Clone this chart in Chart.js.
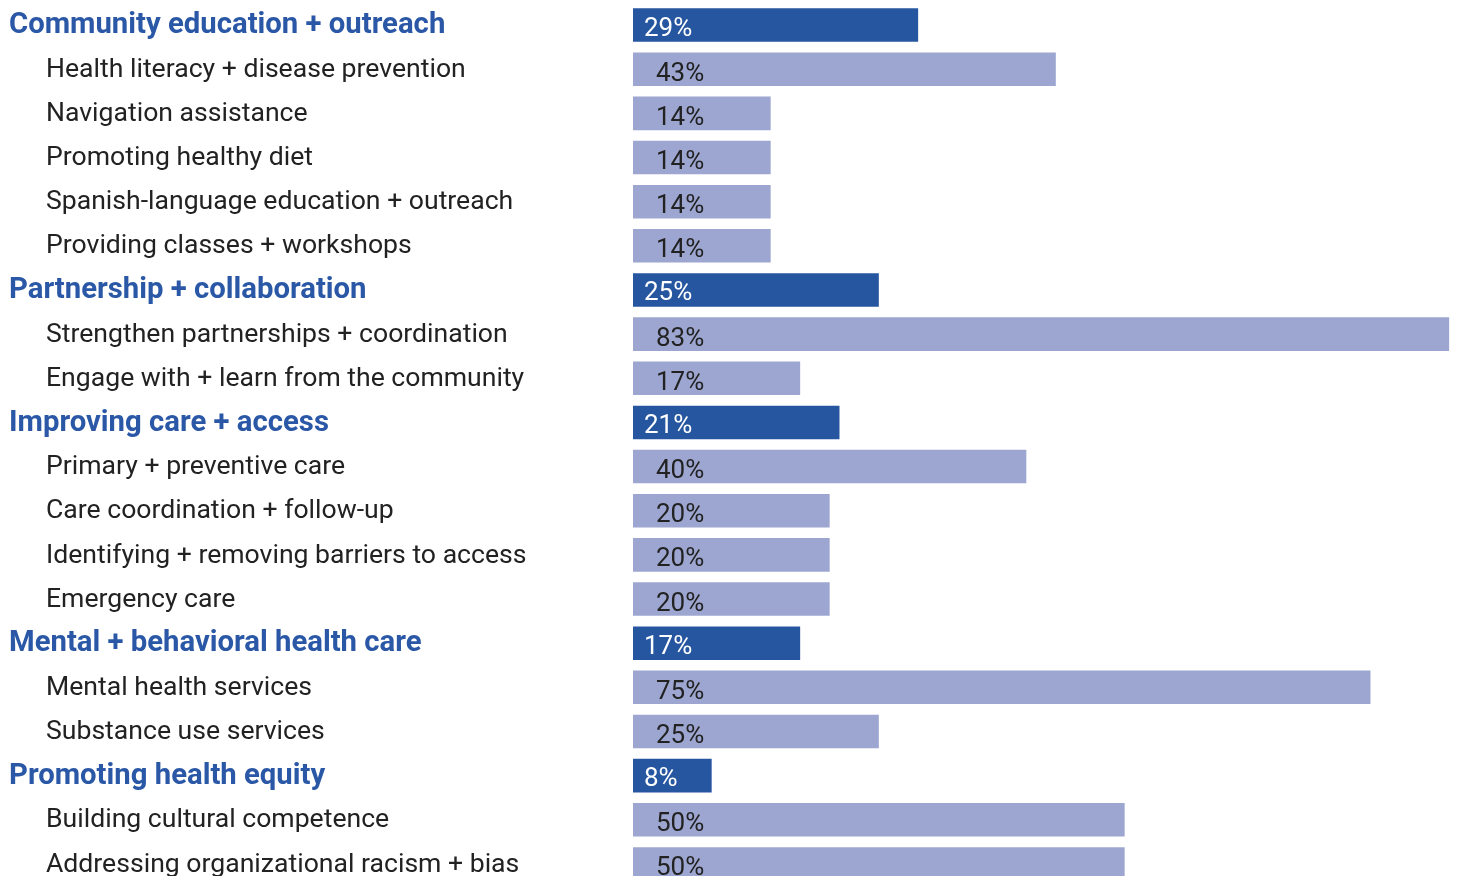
<!DOCTYPE html>
<html lang="en">
<head>
    <meta charset="UTF-8">
    <title>Activity areas</title>
    <script src="https://cdn.jsdelivr.net/npm/chart.js"></script>
    <style>
        html, body { margin: 0; padding: 0; background: #fff; overflow: hidden; }
        .wrap { position: relative; width: 1457px; height: 890px; }
    </style>
</head>
<body>
    <div class="wrap"><canvas id="areaChart"></canvas></div>

    <script>
        const labels = [
            'Community education + outreach',
            'Health literacy + disease prevention',
            'Navigation assistance',
            'Promoting healthy diet',
            'Spanish-language education + outreach',
            'Providing classes + workshops',
            'Partnership + collaboration',
            'Strengthen partnerships + coordination',
            'Engage with + learn from the community',
            'Improving care + access',
            'Primary + preventive care',
            'Care coordination + follow-up',
            'Identifying + removing barriers to access',
            'Emergency care',
            'Mental + behavioral health care',
            'Mental health services',
            'Substance use services',
            'Promoting health equity',
            'Building cultural competence',
            'Addressing organizational racism + bias'
        ];
        // true = group heading, false = item within the group
        const isGroup = [
            true, false, false, false, false, false,
            true, false, false,
            true, false, false, false, false,
            true, false, false,
            true, false, false
        ];
        const values = [29, 43, 14, 14, 14, 14, 25, 83, 17, 21, 40, 20, 20, 20, 17, 75, 25, 8, 50, 50];

        const groupColor = '#2756a0';
        const itemColor = '#9ca6d0';
        const groupText = '#2a58a6';
        const itemText = '#222222';

        // row labels on the left, values inside the bars
        const labelPlugin = {
            id: 'rowLabels',
            afterDatasetsDraw(chart) {
                const ctx = chart.ctx;
                const meta = chart.getDatasetMeta(0);
                ctx.save();
                ctx.textBaseline = 'middle';
                ctx.textAlign = 'left';
                meta.data.forEach((bar, i) => {
                    const y = bar.y;
                    if (isGroup[i]) {
                        ctx.font = 'bold 29.3px Roboto';
                        ctx.fillStyle = groupText;
                        ctx.fillText(labels[i], 9, y + 1);
                        ctx.font = '26px Roboto';
                        ctx.fillStyle = '#ffffff';
                        ctx.fillText(values[i] + '%', bar.base + 11, y + 4);
                    } else {
                        ctx.font = '26.6px Roboto';
                        ctx.fillStyle = itemText;
                        ctx.fillText(labels[i], 46, y + 1);
                        ctx.font = '26px Roboto';
                        ctx.fillText(values[i] + '%', bar.base + 23, y + 5);
                    }
                });
                ctx.restore();
            }
        };

        new Chart(document.getElementById('areaChart'), {
            type: 'bar',
            data: {
                labels: labels,
                datasets: [{
                    data: values,
                    backgroundColor: isGroup.map(g => g ? groupColor : itemColor),
                    borderWidth: 0,
                    barPercentage: 0.76,
                    categoryPercentage: 1
                }]
            },
            options: {
                indexAxis: 'y',
                responsive: true,
                maintainAspectRatio: false,
                animation: false,
                layout: { padding: { left: 633, right: 0, top: 3, bottom: 4 } },
                plugins: {
                    legend: { display: false },
                    tooltip: { enabled: false }
                },
                scales: {
                    x: { display: false, min: 0, max: 83.8 },
                    y: { display: false }
                }
            },
            plugins: [labelPlugin]
        });
    </script>
</body>
</html>
